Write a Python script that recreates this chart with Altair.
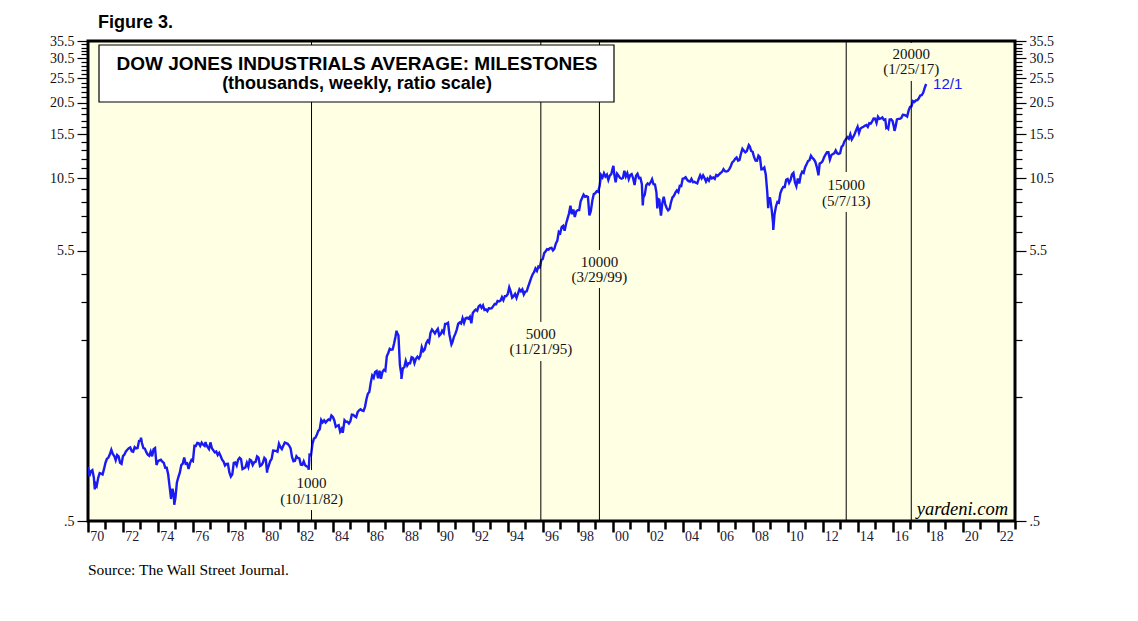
import altair as alt
import pandas as pd

# DJIA month-end closes (points), read/estimated from the chart
monthly = {
    1970: [744, 778, 786, 736, 700, 684, 734, 765, 761, 756, 794, 839],
    1971: [869, 878, 904, 941, 907, 891, 858, 898, 887, 839, 831, 890],
    1972: [902, 928, 941, 954, 961, 929, 925, 964, 953, 956, 1018, 1020],
    1973: [999, 955, 951, 921, 901, 892, 926, 888, 947, 956, 822, 851],
    1974: [856, 861, 847, 837, 802, 802, 757, 679, 608, 666, 619, 616],
    1975: [704, 739, 768, 821, 832, 879, 832, 835, 794, 836, 860, 852],
    1976: [975, 973, 1000, 997, 975, 1003, 985, 974, 990, 965, 947, 1005],
    1977: [954, 936, 919, 927, 899, 916, 891, 862, 847, 818, 830, 831],
    1978: [770, 742, 757, 837, 841, 819, 862, 877, 866, 793, 799, 805],
    1979: [839, 809, 862, 855, 822, 842, 846, 888, 878, 815, 822, 839],
    1980: [876, 863, 786, 817, 851, 868, 935, 933, 932, 925, 993, 964],
    1981: [947, 975, 1004, 998, 992, 977, 953, 882, 850, 853, 889, 875],
    1982: [871, 824, 823, 849, 820, 812, 809, 901, 896, 992, 1039, 1047],
    1983: [1076, 1113, 1130, 1226, 1200, 1222, 1199, 1216, 1233, 1225, 1276, 1259],
    1984: [1221, 1155, 1165, 1171, 1105, 1132, 1115, 1224, 1207, 1207, 1189, 1212],
    1985: [1287, 1284, 1267, 1258, 1315, 1336, 1348, 1334, 1329, 1375, 1472, 1547],
    1986: [1571, 1709, 1819, 1784, 1877, 1893, 1775, 1898, 1768, 1878, 1914, 1896],
    1987: [2158, 2224, 2305, 2286, 2292, 2419, 2572, 2663, 2596, 1994, 1834, 1939],
    1988: [1958, 2072, 1988, 2032, 2031, 2142, 2129, 2032, 2113, 2149, 2115, 2169],
    1989: [2342, 2259, 2294, 2419, 2481, 2440, 2661, 2737, 2693, 2645, 2706, 2753],
    1990: [2591, 2627, 2707, 2657, 2877, 2881, 2905, 2614, 2453, 2442, 2560, 2634],
    1991: [2736, 2882, 2914, 2888, 3028, 2907, 3025, 3044, 3017, 3069, 2895, 3169],
    1992: [3224, 3267, 3236, 3359, 3397, 3319, 3394, 3257, 3272, 3226, 3306, 3301],
    1993: [3310, 3371, 3435, 3428, 3527, 3516, 3540, 3651, 3555, 3681, 3684, 3754],
    1994: [3978, 3832, 3636, 3682, 3758, 3625, 3765, 3913, 3843, 3908, 3739, 3834],
    1995: [3844, 4011, 4158, 4321, 4465, 4556, 4709, 4611, 4789, 4756, 5075, 5117],
    1996: [5395, 5486, 5587, 5569, 5643, 5655, 5529, 5616, 5882, 6029, 6522, 6448],
    1997: [6813, 6877, 6584, 7009, 7331, 7673, 8223, 7622, 7945, 7442, 7823, 7908],
    1998: [7907, 8546, 8800, 9063, 8900, 8952, 8883, 7539, 7843, 8592, 9117, 9181],
    1999: [9359, 9307, 9786, 10789, 10560, 10971, 10655, 10829, 10337, 10730, 10878, 11497],
    2000: [10941, 10128, 10922, 10734, 10522, 10448, 10522, 11215, 10651, 10971, 10415, 10788],
    2001: [10887, 10495, 9879, 10735, 10912, 10502, 10523, 9950, 8848, 9075, 9852, 10022],
    2002: [9920, 10106, 10404, 9946, 9925, 9243, 8737, 8664, 7592, 8397, 8896, 8342],
    2003: [8054, 7891, 7992, 8480, 8850, 8985, 9234, 9416, 9275, 9801, 9782, 10454],
    2004: [10488, 10584, 10358, 10226, 10188, 10435, 10140, 10174, 10080, 10027, 10428, 10783],
    2005: [10490, 10766, 10504, 10193, 10467, 10275, 10641, 10482, 10569, 10440, 10806, 10718],
    2006: [10865, 10993, 11109, 11367, 11168, 11150, 11186, 11381, 11679, 12081, 12222, 12463],
    2007: [12622, 12269, 12354, 13063, 13628, 13409, 13212, 13358, 13896, 13930, 13372, 13265],
    2008: [12650, 12266, 12263, 12820, 12638, 11350, 11378, 11544, 10851, 9325, 8829, 8776],
    2009: [8001, 7063, 7609, 8168, 8500, 8447, 9172, 9496, 9712, 9713, 10345, 10428],
    2010: [10067, 10325, 10857, 11009, 10137, 9774, 10466, 10015, 10788, 11118, 11006, 11578],
    2011: [11892, 12226, 12320, 12811, 12570, 12414, 12143, 11614, 10913, 11955, 12046, 12218],
    2012: [12633, 12952, 13212, 13214, 12393, 12880, 13009, 13091, 13437, 13096, 13026, 13104],
    2013: [13861, 14054, 14579, 14840, 15116, 14910, 15500, 14810, 15130, 15546, 16086, 16577],
    2014: [15699, 16322, 16458, 16581, 16717, 16827, 16563, 17098, 17043, 17391, 17828, 17823],
    2015: [17165, 18133, 17776, 17841, 18011, 17620, 17690, 16528, 16285, 17664, 17720, 17425],
    2016: [16466, 16517, 17685, 17774, 17787, 17930, 18432, 18401, 18308, 18142, 19124, 19763],
    2017: [19864, 20812, 20663, 20941, 21009, 21350, 21891, 21948, 22405, 23377],
}

# intra-month weekly extremes (decimal year, points)
extra_dates = [1970.00, 1970.39, 1973.03, 1974.93, 1976.72, 1980.24, 1982.62, 1984.56,
               1987.64, 1987.92, 1990.78, 2000.04, 2001.72, 2002.55, 2002.76, 2007.78,
               2008.89, 2009.18, 2011.76, 2015.64, 2016.11]
extra_vals = [809, 662, 1047, 578, 1009, 768, 788, 1095,
              2709, 1766, 2398, 11722, 8236, 8019, 7528, 14093,
              8046, 6627, 10770, 16460, 15974]

last_date = 2017.918
last_val = 24231
last_label = "12/1"

# milestones
ms_dates = [1982.78, 1995.89, 1999.24, 2013.35, 2017.07]
ms_line1 = ["1000", "5000", "10000", "15000", "20000"]
ms_line2 = ["(10/11/82)", "(11/21/95)", "(3/29/99)", "(5/7/13)", "(1/25/17)"]
ms_y1 = [0.70, 2.64, 4.99, 9.88, 31.5]
ms_y2 = [0.608, 2.30, 4.37, 8.57, 27.6]
ms_gap_top = [0.786, 2.93, 5.55, 11.09, 34.9]
ms_gap_bot = [0.551, 2.07, 3.96, 7.78, 24.9]

y_lo, y_hi = 0.5, 35.5
y_ticks = [0.5 + i for i in range(36)]
x_ticks = list(range(1970, 2024))

rows = []
for yr, vals in monthly.items():
    for m, v in enumerate(vals, start=1):
        rows.append((yr + m / 12.0, v / 1000.0))
for d, v in zip(extra_dates, extra_vals):
    rows.append((d, v / 1000.0))
rows.append((last_date, last_val / 1000.0))
djia = pd.DataFrame(rows, columns=["date", "val"]).sort_values("date")

W, H = 927, 480
BLUE = "#1a1af2"
SERIF = "Liberation Serif"
SANS = "Liberation Sans"

xscale = alt.Scale(domain=[1970, 2023], nice=False, zero=False)
yscale = alt.Scale(type="log", domain=[y_lo, y_hi], nice=False)

major_test = "(datum.value - 0.5) % 5 == 0"
ylabel_expr = ("(datum.value - 0.5) % 5 == 0 ? (datum.value == 0.5 ? '.5' : format(datum.value, '.1f')) : ''")


def yaxis(orient):
    return alt.Axis(orient=orient, values=y_ticks, labelExpr=ylabel_expr,
                    tickSize={"condition": {"test": major_test, "value": 11}, "value": 7},
                    tickWidth=1.2, tickColor="black", domain=False, grid=False,
                    labelFont=SERIF, labelFontSize=14, labelColor="#111",
                    labelPadding=3, labelOverlap=False, title=None)


xaxis = alt.Axis(orient="bottom", values=x_ticks,
                 labelExpr="datum.value % 2 == 0 && datum.value < 2023 ? substring(toString(datum.value), 2, 4) : ''",
                 tickSize={"condition": {"test": "datum.value % 2 == 0", "value": 11}, "value": 8},
                 tickWidth=2.5, tickColor="black", domain=False, grid=False,
                 labelFont=SERIF, labelFontSize=14, labelColor="#1a1a33",
                 labelOffset=8.75, labelAlign="center", labelPadding=-3,
                 labelFlush=False, labelOverlap=False, title=None)

line = alt.Chart(djia).mark_line(color=BLUE, strokeWidth=2.4, clip=True).encode(
    x=alt.X("date:Q", scale=xscale, axis=xaxis),
    y=alt.Y("val:Q", scale=yscale, axis=yaxis("left")),
)

seg_rows = []
for d, gt, gb in zip(ms_dates, ms_gap_top, ms_gap_bot):
    seg_rows.append((d, y_lo, gb))
    seg_rows.append((d, gt, y_hi))
segs = pd.DataFrame(seg_rows, columns=["date", "y1", "y2"])

rules = alt.Chart(segs).mark_rule(color="black", strokeWidth=1).encode(
    x=alt.X("date:Q", scale=xscale, axis=None),
    y=alt.Y("y1:Q", scale=yscale, axis=yaxis("right")),
    y2="y2:Q",
)

lab_rows = []
for d, t1, t2, a, b in zip(ms_dates, ms_line1, ms_line2, ms_y1, ms_y2):
    lab_rows.append((d, a, t1))
    lab_rows.append((d, b, t2))
labs = pd.DataFrame(lab_rows, columns=["date", "y", "t"])

ms_text = alt.Chart(labs).mark_text(font=SERIF, fontSize=15, color="#111",
                                    align="center", baseline="middle").encode(
    x=alt.X("date:Q", scale=xscale, axis=None),
    y=alt.Y("y:Q", scale=yscale, axis=None),
    text="t:N",
)

end_df = pd.DataFrame({"date": [last_date], "val": [last_val / 1000.0], "t": [last_label]})
end_text = alt.Chart(end_df).mark_text(font=SANS, fontSize=15, color=BLUE,
                                       align="left", baseline="middle", dx=7).encode(
    x=alt.X("date:Q", scale=xscale, axis=None),
    y=alt.Y("val:Q", scale=yscale, axis=None),
    text="t:N",
)

one = pd.DataFrame({"a": [0]})
box = alt.Chart(one).mark_rect(fill="white", stroke="black", strokeWidth=1.2).encode(
    x=alt.value(11), x2=alt.value(526), y=alt.value(4), y2=alt.value(61))

title1 = alt.Chart(one).mark_text(font=SANS, fontWeight="bold", fontSize=19, color="black",
                                  align="center", baseline="middle").encode(
    x=alt.value(269), y=alt.value(23), text=alt.value("DOW JONES INDUSTRIALS AVERAGE: MILESTONES"))
title2 = alt.Chart(one).mark_text(font=SANS, fontWeight="bold", fontSize=18, color="black",
                                  align="center", baseline="middle").encode(
    x=alt.value(269), y=alt.value(43), text=alt.value("(thousands, weekly, ratio scale)"))

fig = alt.Chart(one).mark_text(font=SANS, fontWeight="bold", fontSize=18, color="black",
                               align="left", baseline="alphabetic").encode(
    x=alt.value(10), y=alt.value(-13), text=alt.value("Figure 3."))

src = alt.Chart(one).mark_text(font=SERIF, fontSize=15.5, color="black",
                               align="left", baseline="alphabetic").encode(
    x=alt.value(0), y=alt.value(534), text=alt.value("Source: The Wall Street Journal."))

yard = alt.Chart(one).mark_text(font=SERIF, fontStyle="italic", fontSize=18.5, color="black",
                                align="right", baseline="alphabetic").encode(
    x=alt.value(920), y=alt.value(474), text=alt.value("yardeni.com"))

chart = alt.layer(line, rules, box, title1, title2, ms_text, end_text, yard, fig, src).resolve_axis(
    x="independent", y="independent"
).properties(
    width=W, height=H,
    autosize=alt.AutoSizeParams(type="none"),
    padding={"left": 80, "top": 33, "right": 100, "bottom": 80},
    background="white",
).configure_view(
    stroke="black", strokeWidth=3, fill="#FFFFE3"
)

chart.save("out.html", embed_options={"renderer": "svg", "actions": False})
